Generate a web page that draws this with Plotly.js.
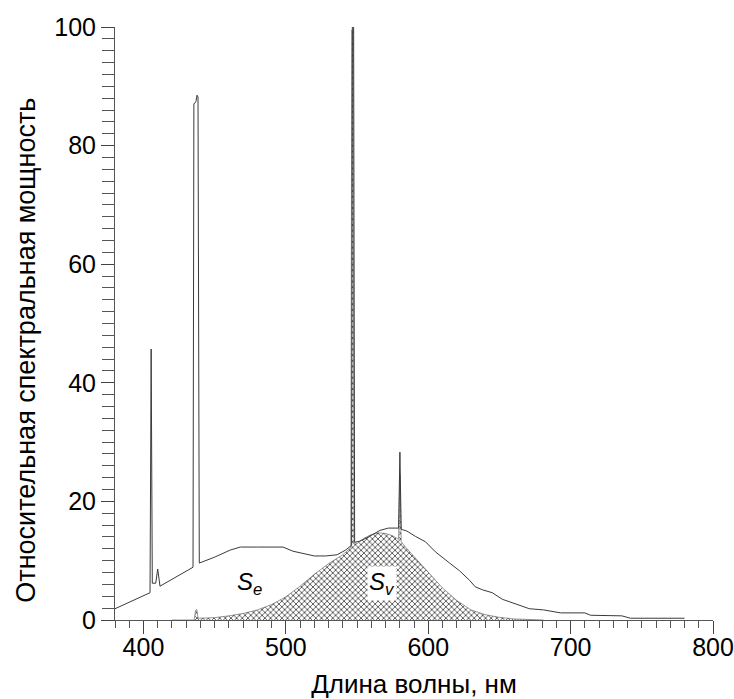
<!DOCTYPE html>
<html>
<head>
<meta charset="utf-8">
<script src="https://cdn.plot.ly/plotly-3.0.1.min.js"></script>
<style>html,body{margin:0;padding:0;background:#fff;}#chart{width:734px;height:699px;}</style>
</head>
<body>
<div id="chart"></div>
<script>
// Se: spectral power of the lamp (relative)
const seWavelength = [380, 404.6, 405.4, 406.2, 408.6, 410.0, 411.6, 434.8, 435.4, 436.8, 437.6, 438.3, 439.2,
  450, 461, 468, 480, 498, 505, 512, 520, 528, 536, 542, 546.2, 546.7, 547.6, 548.3, 552, 558, 566, 572, 579.2,
  580.1, 581.0, 585, 591, 598, 605, 615, 622, 629, 633, 638, 645, 652, 662, 671, 681, 693, 710, 714, 736, 742, 780];
const seValue = [1.9, 4.6, 45.7, 6.2, 6.2, 8.6, 5.7, 8.9, 87.0, 87.4, 88.5, 88.2, 9.6,
  10.6, 11.8, 12.3, 12.3, 12.3, 11.6, 11.2, 10.8, 10.8, 11.0, 11.8, 12.6, 100.3, 100.0, 13.1, 13.3, 14.0, 15.1, 15.5, 15.5,
  28.3, 15.3, 15.0, 14.1, 13.2, 11.5, 9.6, 8.3, 6.7, 5.6, 5.1, 4.6, 3.5, 2.6, 1.9, 1.7, 1.2, 1.2, 0.8, 0.7, 0.3, 0.3];

// Sv: luminous (eye-weighted) spectral power
const svWavelength = [420, 435.6, 436.6, 437.4, 438.4, 440, 450, 460, 470, 480, 490, 500, 510, 520, 525, 530, 540, 545.6,
  546.3, 547.1, 547.9, 550, 555, 560, 565, 570, 575, 579.2, 580.1, 581.0, 584, 590, 600, 610, 620, 630, 640, 650, 660, 670, 681];
const svValue = [0, 0, 1.6, 1.8, 0.3, 0.3, 0.4, 0.7, 1.1, 1.7, 2.6, 3.9, 5.7, 7.7, 8.6, 9.5, 11.0, 12.2,
  99.5, 99.2, 12.8, 12.9, 13.8, 14.4, 14.7, 14.6, 14.2, 13.6, 24.6, 13.2, 12.3, 10.7, 8.0, 5.4, 3.3, 1.7, 0.9, 0.45, 0.18, 0.06, 0];

const xTickVals = [400, 500, 600, 700, 800];
const yTickVals = [0, 20, 40, 60, 80, 100];
const xTitle = 'Длина волны, нм';
const yTitle = 'Относительная спектральная мощность';

const FAM = 'Arial, "Liberation Sans", sans-serif';
const tickFont = {family: FAM, size: 25, color: '#000'};
const titleFont = {family: FAM, size: 26, color: '#000'};
const yTitleFont = {family: FAM, size: 27, color: '#000'};

const traces = [
  {
    x: svWavelength, y: svValue, type: 'scatter', mode: 'lines',
    line: {color: '#555', width: 0.6},
    fill: 'tozeroy', fillcolor: 'white',
    fillpattern: {shape: 'x', size: 4, solidity: 0.35, fgcolor: '#333', bgcolor: 'white'},
    hoverinfo: 'skip', showlegend: false
  },
  {
    x: seWavelength, y: seValue, type: 'scatter', mode: 'lines',
    line: {color: '#3a3a3a', width: 1},
    hoverinfo: 'skip', showlegend: false
  }
];

const layout = {
  width: 734, height: 699,
  margin: {l: 115, r: 21, t: 27, b: 79},
  paper_bgcolor: 'white', plot_bgcolor: 'white',
  font: tickFont,
  showlegend: false,
  xaxis: {
    range: [380, 800], tickvals: xTickVals, ticktext: xTickVals.map(String),
    ticks: 'outside', ticklen: 13, tickcolor: '#444', tickwidth: 1,
    ticklabelstandoff: -8,
    minor: {dtick: 10, ticks: 'outside', ticklen: 7, tickcolor: '#555', tickwidth: 1},
    showline: true, linecolor: '#555', linewidth: 1,
    showgrid: false, zeroline: false,
    tickfont: tickFont,
    title: {text: xTitle, font: titleFont, standoff: 17}
  },
  yaxis: {
    range: [0, 100], tickvals: yTickVals, ticktext: yTickVals.map(String),
    ticks: 'outside', ticklen: 13, tickcolor: '#444', tickwidth: 1,
    minor: {dtick: 2, ticks: 'outside', ticklen: 12, tickcolor: '#555', tickwidth: 1},
    showline: true, linecolor: '#555', linewidth: 1,
    showgrid: false, zeroline: false,
    tickfont: tickFont,
    title: {text: ''}
  },
  annotations: [
    {xref: 'paper', yref: 'paper', x: -0.148, y: 0.455, xanchor: 'center', yanchor: 'middle',
     text: yTitle, textangle: -90, showarrow: false, font: yTitleFont},
    {x: 474.8, y: 6.2, xref: 'x', yref: 'y', text: '<i>S<sub>e</sub></i>', showarrow: false,
     font: {family: FAM, size: 24, color: '#000'}},
    {x: 567.6, y: 6.2, xref: 'x', yref: 'y', text: '<i>S<sub>v</sub></i>', showarrow: false,
     bgcolor: 'white', borderpad: 1,
     font: {family: FAM, size: 24, color: '#000'}}
  ]
};

Plotly.newPlot('chart', traces, layout, {staticPlot: true, displayModeBar: false});
</script>
</body>
</html>
